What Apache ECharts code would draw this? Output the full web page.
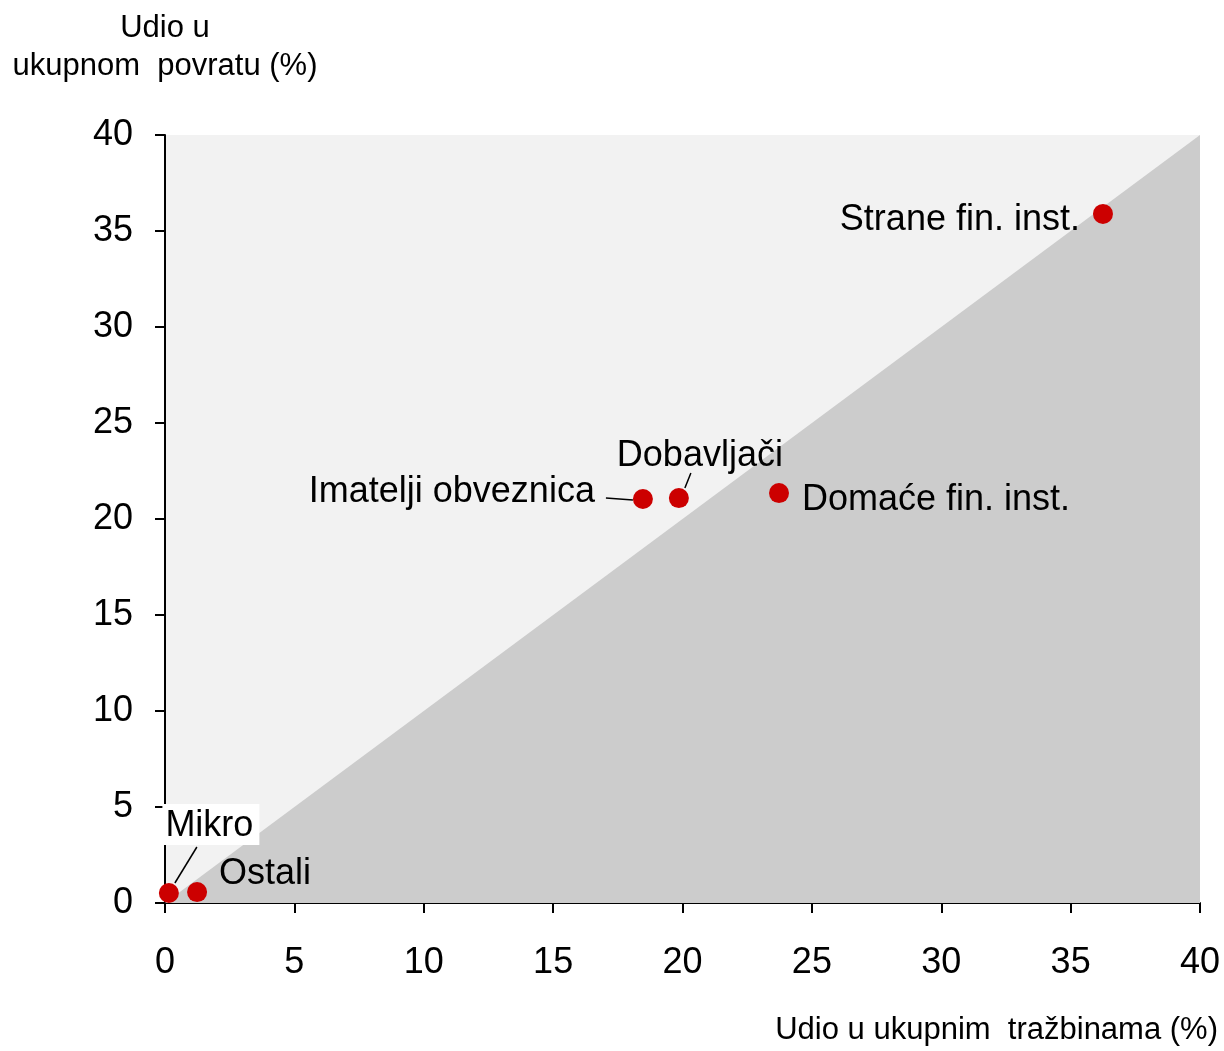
<!DOCTYPE html>
<html>
<head>
<meta charset="UTF-8">
<script src="https://cdn.jsdelivr.net/npm/echarts@6/dist/echarts.min.js"></script>
<style>
  html, body { margin: 0; padding: 0; background: #fff; }
  #chart { width: 1224px; height: 1051px; }
</style>
</head>
<body>
<div id="chart"></div>
<script>
// podaci
const names = ['Strane fin. inst.', 'Domaće fin. inst.', 'Dobavljači', 'Imatelji obveznica', 'Ostali', 'Mikro'];
const shareClaims = [36.25, 23.73, 19.86, 18.47, 1.24, 0.15];   // x: udio u ukupnim tražbinama
const shareReturn = [35.89, 21.35, 21.09, 21.04, 0.57, 0.52];   // y: udio u ukupnom povratu
const axisTicks = [0, 5, 10, 15, 20, 25, 30, 35, 40];
const diagonal = [[0, 0], [40, 40]];
const leaderIdx = [2, 3, 5];   // točke s linijom do natpisa

// raspored natpisa (samo stil); line = krajevi linije u px od središta točke
const labelStyles = [
  { position: 'left', distance: 13, offset: [0, 6] },
  { position: 'right', distance: 13, offset: [0, 7] },
  { position: 'top', distance: 14, offset: [21, 0], line: [[6, -10], [12, -25]] },
  { position: 'left', distance: 38, offset: [0, -7], line: [[-10, 1], [-37, -1]] },
  { position: 'right', distance: 12, offset: [0, -18] },
  { position: 'top', distance: 38, offset: [42, 0], padding: [4, 6, 1, 3], bg: '#fff', line: [[6, -10], [28, -46]] }
];

const points = names.map((n, i) => {
  const s = labelStyles[i];
  return {
    name: n,
    value: [shareClaims[i], shareReturn[i]],
    label: {
      position: s.position,
      distance: s.distance,
      offset: s.offset,
      padding: s.padding || 0,
      backgroundColor: s.bg || 'transparent'
    }
  };
});

const chart = echarts.init(document.getElementById('chart'));
const axisCommon = {
  type: 'value',
  min: axisTicks[0],
  max: axisTicks[axisTicks.length - 1],
  interval: axisTicks[1] - axisTicks[0],
  axisLine: { show: true, lineStyle: { color: '#000', width: 2 } },
  axisTick: { show: true, inside: false, length: 10, lineStyle: { color: '#000', width: 2 } },
  splitLine: { show: false }
};

chart.setOption({
  animation: false,
  textStyle: { fontFamily: 'Liberation Sans, Arial, sans-serif', color: '#000' },
  grid: {
    left: 165, right: 24, top: 135, bottom: 148,
    show: true, backgroundColor: '#f2f2f2', borderWidth: 0
  },
  xAxis: Object.assign({}, axisCommon, {
    axisLabel: { color: '#000', fontSize: 36, margin: 42 },
    name: 'Udio u ukupnim  tražbinama (%)',
    nameLocation: 'end',
    nameGap: 18,
    nameTextStyle: { fontSize: 31, color: '#000', align: 'right', verticalAlign: 'top', padding: [112, 0, 0, 0] }
  }),
  yAxis: Object.assign({}, axisCommon, {
    axisLabel: { color: '#000', fontSize: 36, margin: 32, padding: [6, 0, 0, 0] },
    name: 'Udio u\nukupnom  povratu (%)',
    nameLocation: 'end',
    nameGap: 50,
    nameTextStyle: { fontSize: 31, color: '#000', align: 'center', lineHeight: 38 }
  }),
  series: [
    {
      type: 'line',
      data: diagonal,
      symbol: 'none',
      silent: true,
      lineStyle: { width: 0 },
      areaStyle: { color: '#cccccc', opacity: 1, origin: 'start' },
      z: 1
    },
    {
      // linije od točke do natpisa
      type: 'custom',
      silent: true,
      data: leaderIdx.map(i => [shareClaims[i], shareReturn[i], i]),
      renderItem: function (params, api) {
        const p = api.coord([api.value(0), api.value(1)]);
        const l = labelStyles[api.value(2)].line;
        return {
          type: 'line',
          shape: { x1: p[0] + l[0][0], y1: p[1] + l[0][1], x2: p[0] + l[1][0], y2: p[1] + l[1][1] },
          style: { stroke: '#000', lineWidth: 1.5 }
        };
      },
      z: 2
    },
    {
      type: 'scatter',
      data: points,
      symbolSize: 20,
      itemStyle: { color: '#cc0000', opacity: 1 },
      label: {
        show: true,
        formatter: '{b}',
        fontSize: 36,
        color: '#000'
      },
      z: 3
    }
  ]
});
</script>
</body>
</html>
